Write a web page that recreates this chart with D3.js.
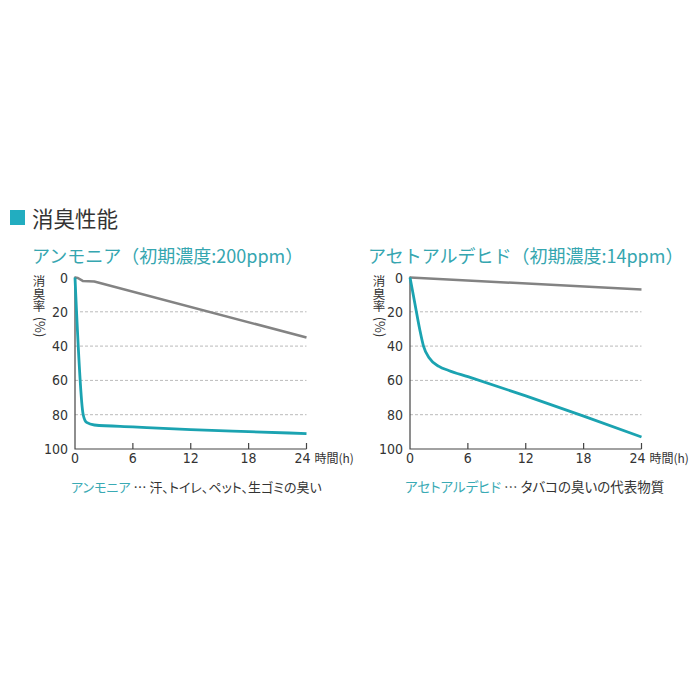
<!DOCTYPE html>
<html>
<head>
<meta charset="utf-8">
<script src="https://cdn.jsdelivr.net/npm/d3@7"></script>
<style>
  body { margin: 0; background: #fff; }
  text { font-family: "Noto Sans CJK JP", "Noto Sans", sans-serif; }
  .num { font-family: "Liberation Sans Narrow", "DejaVu Sans Condensed", "Liberation Sans", sans-serif; }
</style>
</head>
<body>
<script>
// hours / percentages
const hourTicks = [0, 6, 12, 18, 24];
const rateTicks = [0, 20, 40, 60, 80, 100];
const gridTicks = [20, 40, 60, 80];

const ammoniaTeal = [[0, 0], [0.85, 80], [1.2, 84.5], [2, 86], [6, 87.1], [12, 88.7], [18, 89.9], [24, 91]];
const ammoniaGray = [[0, 0], [0.3, 0.3], [0.8, 2], [2, 2.3], [24, 35]];
const acetTeal = [[0, 0], [0.5, 15], [1, 30], [1.4, 40], [2, 47], [3, 51.8], [4, 54.2], [6, 57.8], [12, 69], [18, 80.8], [24, 93]];
const acetGray = [[0, 0], [24, 7]];

const teal = '#1ba3b1';
const gray = '#838383';

window.onload = () => {
    const svg = d3.select('body')
                  .append('svg')
                  .attr('width', 700)
                  .attr('height', 700);

    // heading
    svg.append('rect')
        .attr('x', 10).attr('y', 210)
        .attr('width', 15).attr('height', 15)
        .style('fill', '#22adc0');
    svg.append('text')
        .text('消臭性能')
        .attr('x', 32).attr('y', 227)
        .style('font-size', '21.5px')
        .style('fill', '#333');

    drawChart(svg, {
        left: 75, right: 306.5,
        title: 'アンモニア（初期濃度:200ppm）', titleX: 32,
        labelX: 39,
        teal: ammoniaTeal, gray: ammoniaGray,
        capName: 'アンモニア', capText: ' … 汗、トイレ、ペット、生ゴミの臭い', capX: 71, capSize: 13
    });

    drawChart(svg, {
        left: 410, right: 641.5,
        title: 'アセトアルデヒド（初期濃度:14ppm）', titleX: 368,
        labelX: 379,
        teal: acetTeal, gray: acetGray,
        capName: 'アセトアルデヒド', capText: ' … タバコの臭いの代表物質', capX: 405, capSize: 13.5
    });
};

const drawChart = (svg, o) => {
    const top = 277.5;
    const bottom = 449;

    const x = d3.scaleLinear().domain([0, 24]).range([o.left, o.right]);
    const y = d3.scaleLinear().domain([0, 100]).range([top, bottom]);

    const g = svg.append('g');

    // title
    g.append('text')
        .text(o.title)
        .attr('x', o.titleX).attr('y', 263)
        .style('font-size', '18px')
        .style('fill', '#35a6b0');

    // y label: kanji written vertically, (%) turned sideways
    g.append('text')
        .text('消臭率')
        .attr('x', o.labelX).attr('y', 275)
        .style('writing-mode', 'vertical-rl')
        .style('text-orientation', 'upright')
        .style('font-size', '12.5px')
        .style('fill', '#333');
    g.append('text')
        .text('(%)')
        .attr('transform', `translate(${o.labelX - 4.5}, 327) rotate(90)`)
        .attr('text-anchor', 'middle')
        .style('font-size', '13px')
        .style('fill', '#333');

    // dashed grid
    g.selectAll('.grid')
        .data(gridTicks)
        .enter()
        .append('line')
        .attr('x1', o.left).attr('x2', o.right)
        .attr('y1', d => y(d)).attr('y2', d => y(d))
        .style('stroke', '#bbb')
        .style('stroke-width', 1)
        .style('stroke-dasharray', '3,2');

    // axes
    g.append('path')
        .attr('d', `M ${o.left} ${top - 1} V ${bottom} H ${o.right}`)
        .style('fill', 'none')
        .style('stroke', '#444')
        .style('stroke-width', 1.2);

    g.selectAll('.xtick')
        .data(hourTicks.slice(1))
        .enter()
        .append('line')
        .attr('x1', d => x(d)).attr('x2', d => x(d))
        .attr('y1', bottom).attr('y2', bottom - 6)
        .style('stroke', '#444')
        .style('stroke-width', 1.2);

    g.selectAll('.xlabel')
        .data(hourTicks)
        .enter()
        .append('text')
        .attr('class', 'num')
        .text(d => d)
        .attr('x', d => x(d) - (d === 24 ? 4 : 0))
        .attr('y', bottom + 13.5)
        .attr('text-anchor', 'middle')
        .style('font-size', '14px')
        .style('fill', '#333');

    g.selectAll('.ylabel')
        .data(rateTicks)
        .enter()
        .append('text')
        .attr('class', 'num')
        .text(d => d)
        .attr('x', o.left - 7)
        .attr('y', d => y(d) + 5)
        .attr('text-anchor', 'end')
        .style('font-size', '14px')
        .style('fill', '#333');

    g.append('text')
        .text('時間(h)')
        .attr('x', o.right + 8)
        .attr('y', bottom + 13.5)
        .style('font-size', '12px')
        .style('fill', '#333');

    // lines
    const curve = d3.line()
        .x(d => x(d[0]))
        .y(d => y(d[1]))
        .curve(d3.curveMonotoneX);
    const straight = d3.line()
        .x(d => x(d[0]))
        .y(d => y(d[1]));

    g.append('path')
        .attr('d', straight(o.gray))
        .style('fill', 'none')
        .style('stroke', gray)
        .style('stroke-width', 2.5)
        .style('stroke-linejoin', 'round');

    g.append('path')
        .attr('d', curve(o.teal))
        .style('fill', 'none')
        .style('stroke', teal)
        .style('stroke-width', 2.8);

    // caption
    const cap = g.append('text')
        .attr('x', o.capX).attr('y', 492)
        .style('font-size', `${o.capSize}px`)
        .style('font-feature-settings', '"palt"');
    cap.append('tspan').text(o.capName).style('fill', '#3aaab4');
    cap.append('tspan').text(o.capText).style('fill', '#333');
};
</script>
</body>
</html>
